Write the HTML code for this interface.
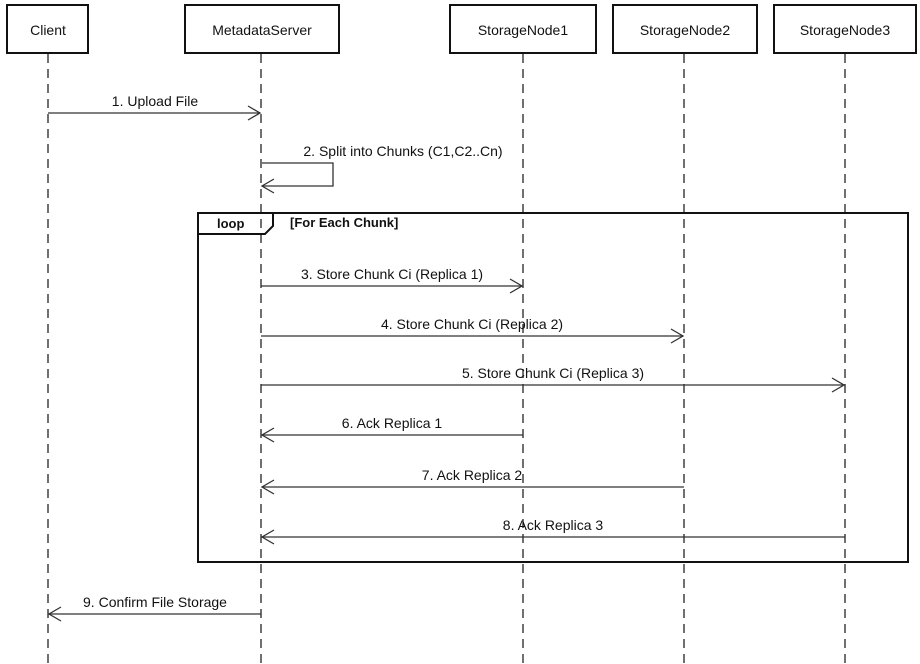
<!DOCTYPE html>
<html><head><meta charset="utf-8"><style>
html,body{margin:0;padding:0;background:#fff;}
svg{display:block;}
text{font-family:"Liberation Sans",Arial,sans-serif;font-size:14px;fill:#111;}
</style></head><body>
<svg width="920" height="664" viewBox="0 0 920 664" xmlns="http://www.w3.org/2000/svg">
<g stroke="#111" stroke-width="1.2" stroke-dasharray="9,6" fill="none">
<line x1="48" y1="54" x2="48" y2="664"/>
<line x1="261" y1="54" x2="261" y2="664"/>
<line x1="523" y1="54" x2="523" y2="664"/>
<line x1="684" y1="54" x2="684" y2="664"/>
<line x1="845" y1="54" x2="845" y2="664"/>
</g>
<g stroke="#111" stroke-width="2" fill="#fff">
<rect x="7" y="5" width="81" height="48"/>
<rect x="185" y="5" width="154" height="48"/>
<rect x="450" y="5" width="146" height="48"/>
<rect x="613" y="5" width="144" height="48"/>
<rect x="774" y="5" width="142" height="48"/>
</g>
<g text-anchor="middle">
<text x="48" y="35">Client</text>
<text x="262" y="35">MetadataServer</text>
<text x="523" y="35">StorageNode1</text>
<text x="685" y="35">StorageNode2</text>
<text x="845" y="35">StorageNode3</text>
</g>
<rect x="198" y="213" width="710" height="349" fill="none" stroke="#111" stroke-width="2"/>
<path d="M198,234 L265,234 L273,226 L273,213" fill="none" stroke="#111" stroke-width="2"/>
<text x="217" y="228" font-weight="bold" style="font-size:13px">loop</text>
<text x="290" y="227" font-weight="bold" style="font-size:13px">[For Each Chunk]</text>
<g stroke="#333" stroke-width="1.3" fill="none">
<line x1="48" y1="113" x2="260" y2="113"/><path d="M248,106 L260,113 L248,120"/>
<path d="M262,163 L333,163 L333,186 L262,186"/><path d="M274,179 L262,186 L274,193"/>
<line x1="261" y1="286" x2="522" y2="286"/><path d="M510,279 L522,286 L510,293"/>
<line x1="261" y1="336" x2="683" y2="336"/><path d="M671,329 L683,336 L671,343"/>
<line x1="261" y1="385" x2="844" y2="385"/><path d="M832,378 L844,385 L832,392"/>
<line x1="262" y1="435" x2="523" y2="435"/><path d="M274,428 L262,435 L274,442"/>
<line x1="262" y1="487" x2="684" y2="487"/><path d="M274,480 L262,487 L274,494"/>
<line x1="262" y1="537" x2="845" y2="537"/><path d="M274,530 L262,537 L274,544"/>
<line x1="49" y1="614" x2="261" y2="614"/><path d="M61,607 L49,614 L61,621"/>
</g>
<g text-anchor="middle">
<text x="155" y="106">1. Upload File</text>
<text x="403" y="156">2. Split into Chunks (C1,C2..Cn)</text>
<text x="392" y="279">3. Store Chunk Ci (Replica 1)</text>
<text x="472" y="329">4. Store Chunk Ci (Replica 2)</text>
<text x="553" y="378">5. Store Chunk Ci (Replica 3)</text>
<text x="392" y="428">6. Ack Replica 1</text>
<text x="472" y="480">7. Ack Replica 2</text>
<text x="553" y="530">8. Ack Replica 3</text>
<text x="155" y="607">9. Confirm File Storage</text>
</g>
</svg>
</body></html>
